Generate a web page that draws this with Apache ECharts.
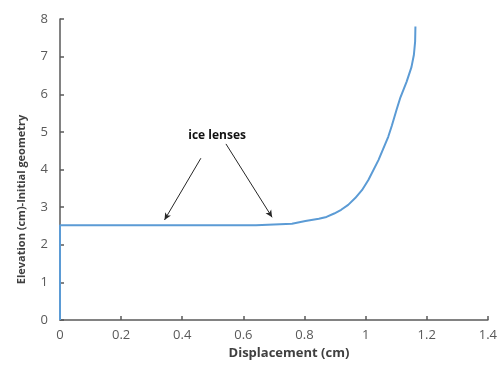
<!DOCTYPE html>
<html>
<head>
<meta charset="utf-8">
<script src="https://cdn.jsdelivr.net/npm/echarts@6/dist/echarts.min.js"></script>
<style>
  html, body { margin: 0; padding: 0; background: #fff; }
  #chart { width: 500px; height: 365px; }
</style>
</head>
<body>
<div id="chart"></div>
<script>
// displacement (cm) vs elevation (cm)
var displacement = [0, 0, 0.641, 0.645, 0.759, 0.765, 0.803, 0.847, 0.872, 0.897, 0.920, 0.943, 0.966, 0.988, 1.009, 1.042, 1.074, 1.086, 1.101, 1.114, 1.134, 1.150, 1.158, 1.162, 1.163];
var elevation    = [0, 2.52, 2.52, 2.56, 2.56, 2.60, 2.63, 2.69, 2.74, 2.83, 2.93, 3.06, 3.24, 3.45, 3.72, 4.25, 4.87, 5.17, 5.58, 5.92, 6.33, 6.72, 7.05, 7.40, 7.80];

// annotation: label and arrows (start -> end) in data units
var noteText = 'ice lenses';
var notePos = [0.514, 4.89];
var arrowStarts = [[0.461, 4.30], [0.543, 4.68]];
var arrowEnds   = [[0.342, 2.66], [0.694, 2.73]];

var points = displacement.map(function (x, i) { return [x, elevation[i]]; });
var arrows = arrowStarts.map(function (s, i) {
  return [{coord: s}, {coord: arrowEnds[i]}];
});

var chart = echarts.init(document.getElementById('chart'));

var axisCommon = {
  type: 'value',
  axisLine: {show: true, onZero: false, lineStyle: {color: '#595959', width: 1.5}},
  axisTick: {show: true, inside: true, length: 4, lineStyle: {color: '#595959', width: 1.5}},
  splitLine: {show: false},
  axisLabel: {color: '#595959', fontSize: 13, fontFamily: 'Open Sans'},
  nameLocation: 'middle',
  nameTextStyle: {color: '#404040', fontWeight: 'bold', fontFamily: 'Open Sans'}
};

chart.setOption({
  animation: false,
  grid: {left: 60, right: 10, top: 19, bottom: 45},
  xAxis: Object.assign({}, axisCommon, {
    min: 0, max: 1.4, interval: 0.2,
    name: 'Displacement (cm)',
    nameGap: 25,
    nameTextStyle: Object.assign({}, axisCommon.nameTextStyle, {fontSize: 13, padding: [0, 0, 0, 30]}),
    axisLabel: Object.assign({}, axisCommon.axisLabel, {margin: 9})
  }),
  yAxis: Object.assign({}, axisCommon, {
    min: 0, max: 8, interval: 1,
    name: '{t|Elevation (cm)-Initial geometry}{s|}',
    nameGap: 33,
    nameTextStyle: Object.assign({}, axisCommon.nameTextStyle, {
      fontSize: 11,
      rich: {
        t: {color: '#404040', fontWeight: 'bold', fontFamily: 'Open Sans', fontSize: 11},
        s: {width: 60}
      }
    }),
    axisLabel: Object.assign({}, axisCommon.axisLabel, {margin: 12})
  }),
  series: [
    {
      type: 'line',
      data: points,
      showSymbol: false,
      lineStyle: {color: '#5b9bd5', width: 2},
      markLine: {
        silent: true,
        symbol: ['none', 'arrow'],
        symbolSize: [5, 7],
        lineStyle: {color: '#262626', width: 1, type: 'solid'},
        label: {show: false},
        data: arrows
      },
      markPoint: {
        silent: true,
        symbol: 'rect',
        symbolSize: 1,
        itemStyle: {color: 'rgba(0,0,0,0)'},
        label: {
          show: true,
          position: 'inside',
          formatter: noteText,
          color: '#111',
          fontSize: 12,
          fontWeight: 'bold',
          fontFamily: 'Open Sans'
        },
        data: [{coord: notePos}]
      }
    }
  ]
});
</script>
</body>
</html>
